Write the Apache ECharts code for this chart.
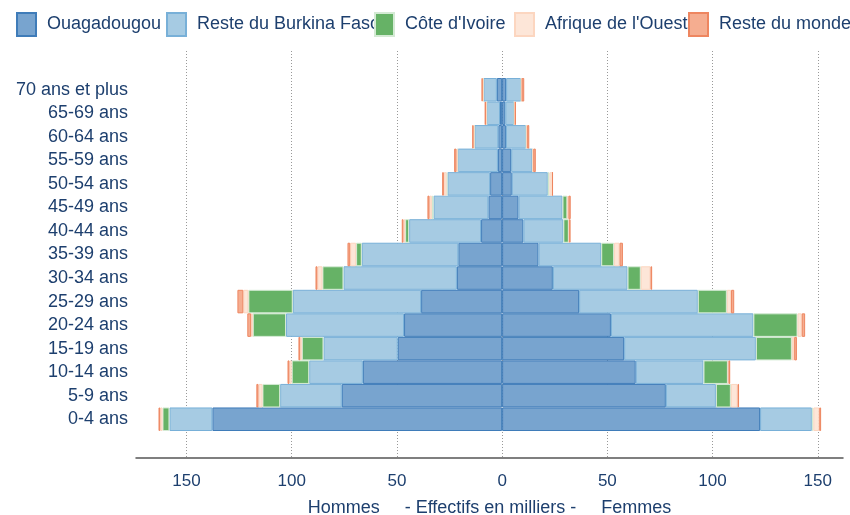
<!DOCTYPE html>
<html>
<head>
<meta charset="utf-8">
<script src="https://cdn.jsdelivr.net/npm/echarts@6/dist/echarts.min.js"></script>
<style>html,body{margin:0;padding:0;background:#fff;}#c{width:850px;height:515px;}</style>
</head>
<body>
<div id="c"></div>
<script>
const categories = ['0-4 ans','5-9 ans','10-14 ans','15-19 ans','20-24 ans','25-29 ans','30-34 ans','35-39 ans','40-44 ans','45-49 ans','50-54 ans','55-59 ans','60-64 ans','65-69 ans','70 ans et plus'];
const seriesNames = ['Ouagadougou','Reste du Burkina Faso',"Côte d'Ivoire","Afrique de l'Ouest",'Reste du monde'];
const tickValues = [-150,-100,-50,0,50,100,150];

// Hommes (milliers)
const hommesOuaga = [137.7,76.2,66.2,49.6,46.6,38.5,21.5,20.8,10.0,6.5,5.7,2.0,1.8,1.0,2.5];
const hommesResteBF = [20.4,29.3,25.5,35.3,56.1,61.0,53.9,45.9,34.2,26.1,20.3,19.1,11.4,6.3,6.4];
const hommesCI = [3.3,8.4,8.3,10.3,15.8,21.1,10.0,2.7,1.9,0.8,0.4,0.1,0.1,0.1,0.1];
const hommesAO = [1.1,1.9,1.1,0.8,0.8,2.4,2.4,2.8,0.8,1.1,1.3,0.5,0.3,0.3,0.3];
const hommesRM = [0.8,1.0,0.9,0.8,1.8,2.8,0.9,1.3,0.8,1.0,0.8,1.1,0.6,0.6,0.4];

// Femmes (milliers)
const femmesOuaga = [122.6,77.8,63.5,58.0,51.7,36.6,24.1,17.3,10.1,7.8,4.6,4.3,1.8,1.5,1.9];
const femmesResteBF = [24.6,23.8,32.2,62.6,67.7,56.4,35.5,29.8,19.0,20.9,17.1,10.1,9.6,4.2,7.1];
const femmesCI = [0.7,7.1,11.6,17.1,21.0,13.8,6.3,6.1,2.6,2.3,0.8,0.1,0.1,0.1,0.1];
const femmesAO = [2.8,3.2,0.3,1.1,2.0,2.0,4.6,2.6,0.2,0.5,1.4,0.3,0.4,0.2,0.2];
const femmesRM = [0.9,0.7,0.8,1.3,1.6,1.5,0.8,1.6,0.6,1.1,0.1,1.2,1.0,0.6,1.2];

const hommes = [hommesOuaga,hommesResteBF,hommesCI,hommesAO,hommesRM];
const femmes = [femmesOuaga,femmesResteBF,femmesCI,femmesAO,femmesRM];

const fills = ['#78a4cf','#a6cbe3','#66b266','#fde6d8','#f5ad90'];
const borders = ['#3f7cb9','#78b0d8','#d4ead4','#fcd6c0','#ee8660'];
const textColor = '#1d3f6e';
const font = '"Liberation Sans", Arial, sans-serif';

const series = [];
seriesNames.forEach((name,i)=>{
  const style = {color: fills[i], borderColor: borders[i], borderWidth: 1};
  series.push({name, type:'bar', stack:'pyr', xAxisIndex:1, yAxisIndex:1, barCategoryGap:'0%',
    itemStyle: style, data: hommes[i].map(v=>-v), animation:false});
  series.push({name, type:'bar', stack:'pyr', xAxisIndex:1, yAxisIndex:1, barCategoryGap:'0%',
    itemStyle: style, data: femmes[i], animation:false});
});

const legendLefts = [16,166,374,514,688];
const legends = seriesNames.map((n,i)=>({
  data:[n], left: legendLefts[i], top: 12, padding:0, icon:'rect',
  itemWidth:19, itemHeight:23, selectedMode:false,
  textStyle:{fontSize:18, color:textColor, fontFamily:font, padding:[2,0,0,6]}
}));

const chart = echarts.init(document.getElementById('c'), null, {renderer:'canvas'});
chart.setOption({
  animation:false,
  legend: legends,
  grid: [
    {left:136, right:7, top:51, bottom:57, outerBoundsMode:'none', containLabel:false},
    {left:136, right:7, top:78, height:353, outerBoundsMode:'none', containLabel:false}
  ],
  xAxis: [
    {gridIndex:0, type:'value', min:-174, max:162,
      axisLine:{show:true, lineStyle:{color:'#555', width:1.5}},
      axisTick:{show:false, customValues: tickValues},
      axisLabel:{customValues: tickValues, formatter:v=>String(Math.abs(v)), fontSize:17, color:textColor, fontFamily:font, margin:15},
      splitLine:{show:true, lineStyle:{color:'#999', type:[1,2], width:1}},
      name:'Hommes     - Effectifs en milliers -     Femmes', nameLocation:'middle', nameGap:41,
      nameTextStyle:{fontSize:18, color:textColor, fontFamily:font}
    },
    {gridIndex:1, type:'value', min:-174, max:162, show:false, splitLine:{show:false}}
  ],
  yAxis: [
    {gridIndex:0, type:'value', show:false, splitLine:{show:false}},
    {gridIndex:1, type:'category', data:categories,
      axisLine:{show:false}, axisTick:{show:false},
      axisLabel:{fontSize:18, color:textColor, fontFamily:font, margin:8, padding:[5,0,0,0]}}
  ],
  series
});
</script>
</body>
</html>
